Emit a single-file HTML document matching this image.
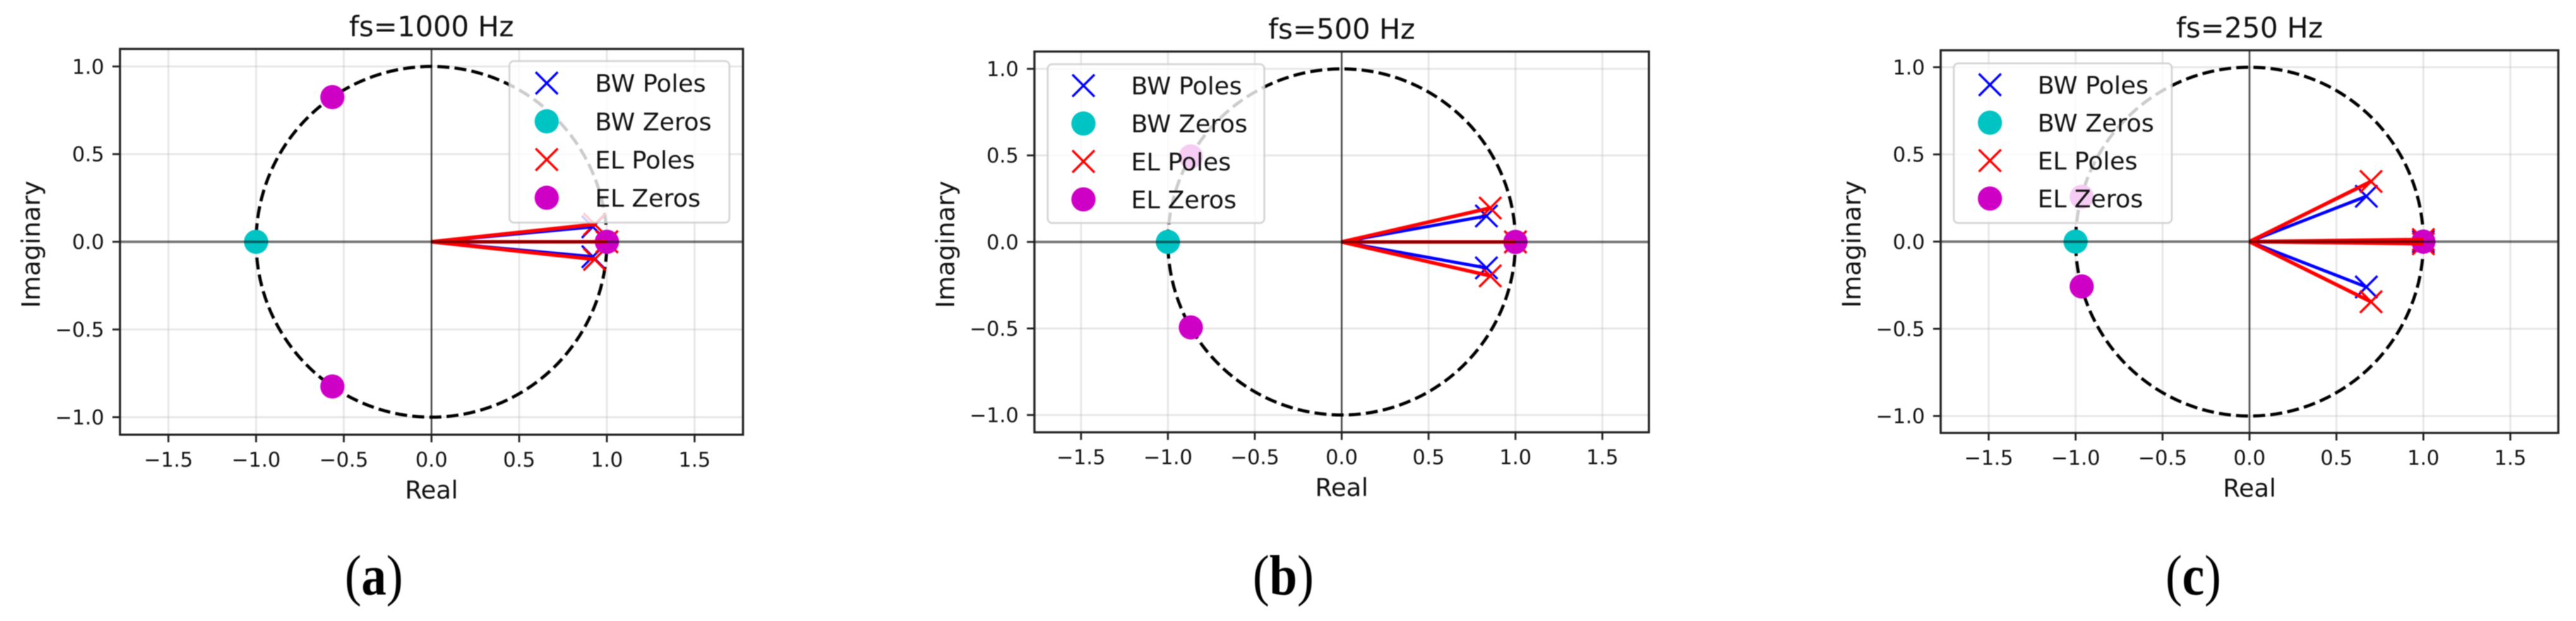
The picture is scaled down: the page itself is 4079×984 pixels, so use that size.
<!DOCTYPE html>
<html lang="en">
<head>
<meta charset="utf-8">
<title>Pole-zero plots</title>
<style>
html,body{margin:0;padding:0;background:#fff;width:4079px;height:984px;overflow:hidden}
#figure{display:block;filter:blur(0.7px)}
text{font-family:"DejaVu Sans","Liberation Sans",sans-serif;fill:#111}
.caption{font-family:"Liberation Serif",serif;fill:#000}
</style>
</head>
<body>
<svg id="figure" xmlns="http://www.w3.org/2000/svg" width="4079" height="984" viewBox="0 0 4079 984"></svg>
<script>
const xTickValues = [-1.5, -1.0, -0.5, 0.0, 0.5, 1.0, 1.5];
const yTickValues = [-1.0, -0.5, 0.0, 0.5, 1.0];
const xTickLabels = ['\u22121.5', '\u22121.0', '\u22120.5', '0.0', '0.5', '1.0', '1.5'];
const yTickLabels = ['\u22121.0', '\u22120.5', '0.0', '0.5', '1.0'];
const legendLabels = ['BW Poles', 'BW Zeros', 'EL Poles', 'EL Zeros'];

const bwPoles1000 = [[0.92, 0.085], [0.92, -0.085], [1.0, 0.0]];
const bwZeros1000 = [[-1.0, 0.0], [1.0, 0.0]];
const elPoles1000 = [[0.93, 0.10], [0.93, -0.10], [1.0, 0.0]];
const elZeros1000 = [[-0.565, 0.825], [-0.565, -0.825], [1.0, 0.0]];

const bwPoles500 = [[0.833, 0.15], [0.833, -0.15], [1.0, 0.0]];
const bwZeros500 = [[-1.0, 0.0], [1.0, 0.0]];
const elPoles500 = [[0.855, 0.196], [0.855, -0.196], [1.0, 0.0]];
const elZeros500 = [[-0.868, 0.494], [-0.868, -0.494], [1.0, 0.0]];

const bwPoles250 = [[0.672, 0.26], [0.672, -0.26], [1.0, 0.0]];
const bwZeros250 = [[-1.0, 0.0], [1.0, 0.0]];
const elPoles250 = [[0.699, 0.345], [0.699, -0.345], [1.0, 0.012], [1.0, -0.012]];
const elZeros250 = [[-0.965, 0.257], [-0.965, -0.257], [1.0, 0.0]];

const NS = 'http://www.w3.org/2000/svg';
const root = document.getElementById('figure');

function make(parent, tag, attrs, txt) {
  const n = document.createElementNS(NS, tag);
  for (const k in attrs) n.setAttribute(k, attrs[k]);
  if (txt !== undefined) n.textContent = txt;
  parent.appendChild(n);
  return n;
}

function crossMarker(parent, cx, cy, color, h, name) {
  const d = 'M' + (cx - h) + ' ' + (cy - h) + 'L' + (cx + h) + ' ' + (cy + h) +
            'M' + (cx - h) + ' ' + (cy + h) + 'L' + (cx + h) + ' ' + (cy - h);
  const m = make(parent, 'path', {d: d, stroke: color, 'stroke-width': 3.6, fill: 'none'});
  
  
}

function dotMarker(parent, cx, cy, color, name) {
  const m = make(parent, 'circle', {cx: cx, cy: cy, r: 19.2, fill: color});
  
  
}

function drawPanel(p, bwPoles, bwZeros, elPoles, elZeros) {
  const g = make(root, 'g', {});
  
  

  const xc = (p.left + p.right) / 2, yc = (p.top + p.bottom) / 2;
  const ux = (p.right - p.left) / 2 / p.xMax, uy = (p.bottom - p.top) / 2 / p.yMax;
  const X = v => xc + v * ux;
  const Y = v => yc - v * uy;

  xTickValues.forEach(function (v, i) {
    const gl = make(g, 'line', {x1: X(v), x2: X(v), y1: p.top, y2: p.bottom, stroke: '#b0b0b0', 'stroke-opacity': 0.3, 'stroke-width': 3});
    
    
    const tk = make(g, 'line', {x1: X(v), x2: X(v), y1: p.bottom, y2: p.bottom + 12, stroke: '#222', 'stroke-width': 3});
    
    
    const tl = make(g, 'text', {x: X(v), y: p.bottom + 50.5, 'font-size': 32, 'text-anchor': 'middle'}, xTickLabels[i]);
    
    
  });
  yTickValues.forEach(function (v, i) {
    const gl = make(g, 'line', {x1: p.left, x2: p.right, y1: Y(v), y2: Y(v), stroke: '#b0b0b0', 'stroke-opacity': 0.3, 'stroke-width': 3});
    
    
    const tk = make(g, 'line', {x1: p.left - 12, x2: p.left, y1: Y(v), y2: Y(v), stroke: '#222', 'stroke-width': 3});
    
    
    const tl = make(g, 'text', {x: p.left - 25, y: Y(v) + 11.5, 'font-size': 32, 'text-anchor': 'end'}, yTickLabels[i]);
    
    
  });

  const rx = X(1) - X(0), ry = Y(0) - Y(1);
  const circle = make(g, 'path', {
    d: 'M' + X(1) + ' ' + Y(0) + 'A' + rx + ' ' + ry + ' 0 0 0 ' + X(-1) + ' ' + Y(0) +
       'A' + rx + ' ' + ry + ' 0 0 0 ' + X(1) + ' ' + Y(0),
    fill: 'none', stroke: '#000', 'stroke-width': 5, 'stroke-dasharray': '19 8.2'
  });
  
  

  bwPoles.forEach(function (pt) { crossMarker(g, X(pt[0]), Y(pt[1]), '#0000ff', 17.5, 'bw-pole-marker'); });
  bwZeros.forEach(function (pt) { dotMarker(g, X(pt[0]), Y(pt[1]), '#00c3c3', 'bw-zero-marker'); });
  elPoles.forEach(function (pt) { crossMarker(g, X(pt[0]), Y(pt[1]), '#ff0000', 17.5, 'el-pole-marker'); });
  elZeros.forEach(function (pt) { dotMarker(g, X(pt[0]), Y(pt[1]), '#cf00c6', 'el-zero-marker'); });

  bwPoles.forEach(function (pt) {
    const l = make(g, 'line', {x1: X(0), y1: Y(0), x2: X(pt[0]), y2: Y(pt[1]), stroke: '#0000ff', 'stroke-width': 5});
    
    
  });
  elPoles.forEach(function (pt) {
    const l = make(g, 'line', {x1: X(0), y1: Y(0), x2: X(pt[0]), y2: Y(pt[1]), stroke: '#ff0000', 'stroke-width': 5.8});
    
    
  });

  const hAxis = make(g, 'line', {x1: p.left, x2: p.right, y1: Y(0), y2: Y(0), stroke: '#000', 'stroke-opacity': 0.5, 'stroke-width': 4});
  
  
  const vAxis = make(g, 'line', {x1: X(0), x2: X(0), y1: p.top, y2: p.bottom, stroke: '#000', 'stroke-opacity': 0.7, 'stroke-width': 2.6});
  
  

  const lg = make(g, 'g', {});
  
  
  const box = make(lg, 'rect', {x: p.lgX, y: p.lgY, width: p.lgW, height: p.lgH, rx: 7, ry: 7, fill: '#fff', 'fill-opacity': 0.8, stroke: '#ccc', 'stroke-opacity': 0.8, 'stroke-width': 3});
  
  
  legendLabels.forEach(function (label, i) {
    const ry0 = p.lgRow0 + i * p.lgRowStep;
    if (i === 0) crossMarker(lg, p.lgMarkX, ry0, '#0000ff', 17.5, 'legend-marker-bw-poles');
    if (i === 1) dotMarker(lg, p.lgMarkX, ry0, '#00c3c3', 'legend-marker-bw-zeros');
    if (i === 2) crossMarker(lg, p.lgMarkX, ry0, '#ff0000', 17.5, 'legend-marker-el-poles');
    if (i === 3) dotMarker(lg, p.lgMarkX, ry0, '#cf00c6', 'legend-marker-el-zeros');
    const t = make(lg, 'text', {x: p.lgTextX, y: ry0 + 14, 'font-size': 38.6}, label);
    
    
  });

  const frame = make(g, 'rect', {x: p.left, y: p.top, width: p.right - p.left, height: p.bottom - p.top, fill: 'none', stroke: '#222', 'stroke-width': 3.4});
  
  

  const title = make(g, 'text', {x: xc, y: p.top - 20, 'font-size': 44.6, 'text-anchor': 'middle'}, p.title);
  
  
  const xl = make(g, 'text', {x: xc, y: p.bottom + 101, 'font-size': 39, 'text-anchor': 'middle'}, 'Real');
  
  
  const yl = make(g, 'text', {x: 0, y: 0, 'font-size': 40, 'text-anchor': 'middle', transform: 'translate(' + (p.left - 127) + ' ' + (yc + 4) + ') rotate(-90)'}, 'Imaginary');
  
  

  const cap = make(g, 'text', {x: 0, y: 0, 'font-size': 90, 'text-anchor': 'middle', class: 'caption', transform: 'translate(' + p.capX + ' 942) scale(0.88 1)'});
  
  
  make(cap, 'tspan', {}, '(');
  make(cap, 'tspan', {'font-weight': 'bold'}, p.key);
  make(cap, 'tspan', {}, ')');
}

drawPanel({key: 'a', title: 'fs=1000 Hz', left: 190, right: 1176.5, top: 77.5, bottom: 688.8, xMax: 1.776, yMax: 1.1,
  lgX: 806.7, lgY: 96.7, lgW: 348.3, lgH: 256, lgMarkX: 865.7, lgTextX: 942.3, lgRow0: 131.7, lgRowStep: 60.55, capX: 592},
  bwPoles1000, bwZeros1000, elPoles1000, elZeros1000);
drawPanel({key: 'b', title: 'fs=500 Hz', left: 1638, right: 2611, top: 81.7, bottom: 685, xMax: 1.768, yMax: 1.1,
  lgX: 1659, lgY: 101.7, lgW: 343, lgH: 251.7, lgMarkX: 1715.6, lgTextX: 1791, lgRow0: 135.6, lgRowStep: 60.1, capX: 2032},
  bwPoles500, bwZeros500, elPoles500, elZeros500);
drawPanel({key: 'c', title: 'fs=250 Hz', left: 3073, right: 4051, top: 79.7, bottom: 686, xMax: 1.776, yMax: 1.097,
  lgX: 3093.8, lgY: 100.4, lgW: 345.2, lgH: 253, lgMarkX: 3151, lgTextX: 3226.5, lgRow0: 134.3, lgRowStep: 60.1, capX: 3473},
  bwPoles250, bwZeros250, elPoles250, elZeros250);
</script>
</body>
</html>
